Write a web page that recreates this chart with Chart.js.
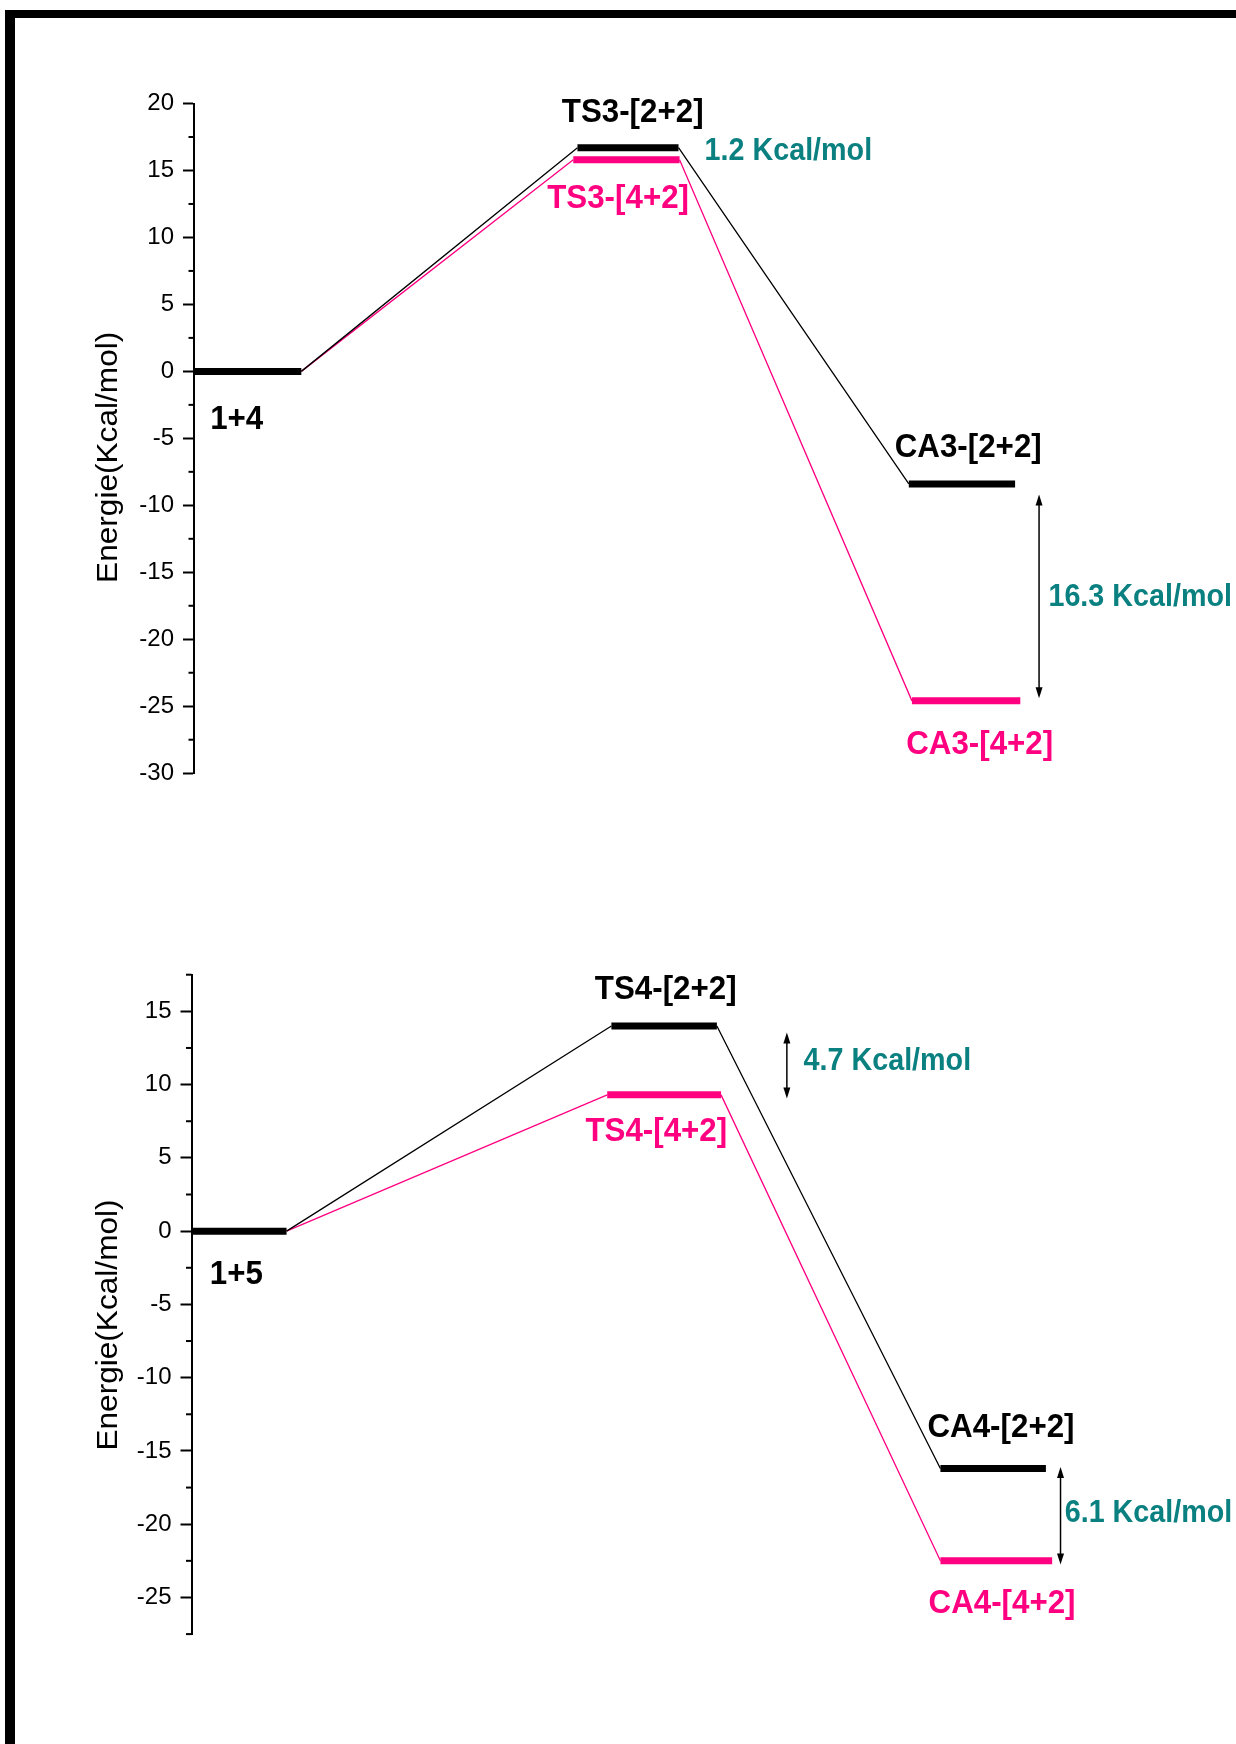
<!DOCTYPE html>
<html>
<head>
<meta charset="utf-8">
<script src="https://cdn.jsdelivr.net/npm/chart.js@4.4.1/dist/chart.umd.min.js"></script>
<style>
  body { margin: 0; background: #fff; width: 1236px; height: 1744px; position: relative; overflow: hidden; }
  #frameTop { position: absolute; left: 5px; top: 10px; width: 1231px; height: 8px; background: #000; }
  #frameLeft { position: absolute; left: 5px; top: 10px; width: 10px; height: 1734px; background: #000; }
  canvas { position: absolute; left: 0; }
  #upper { top: 0; }
  #lower { top: 870px; }
</style>
</head>
<body>
<div id="frameTop"></div>
<div id="frameLeft"></div>
<canvas id="upper" width="1236" height="870"></canvas>
<canvas id="lower" width="1236" height="874"></canvas>
<script>
/* ---------------------------------------------------------------------------
    DATA  (energies in Kcal/mol, x = reaction coordinate)
--------------------------------------------------------------------------- */

// upper diagram: 1+4
const upperNames22 = ['1+4', 'TS3-[2+2]', 'CA3-[2+2]'];
const upperNames42 = ['1+4', 'TS3-[4+2]', 'CA3-[4+2]'];
const upperEnergy22 = [0, 16.7, -8.4];
const upperEnergy42 = [0, 15.8, -24.6];
const upperStart22 = [0, 3.68, 6.86];
const upperEnd22 = [1.03, 4.65, 7.88];
const upperStart42 = [0, 3.64, 6.89];
const upperEnd42 = [1.03, 4.66, 7.93];
const upperTicks = { min: -30, max: 20, step: 5, minor: 2.5 };
// label anchors [x, energy]
const upperLabelX22 = [0.41, 4.21, 7.43];
const upperLabelY22 = [-3.6, 19.3, -5.7];
const upperLabelX42 = [null, 4.07, 7.54];
const upperLabelY42 = [null, 12.9, -27.9];
const upperGapText = ['1.2 Kcal/mol', '16.3 Kcal/mol'];
const upperGapTextX = [4.90, 8.20];
const upperGapTextY = [16.4, -16.9];
const upperArrowX = [8.11];
const upperArrowFrom = [-9.2];
const upperArrowTo = [-24.4];

// lower diagram: 1+5
const lowerNames22 = ['1+5', 'TS4-[2+2]', 'CA4-[2+2]'];
const lowerNames42 = ['1+5', 'TS4-[4+2]', 'CA4-[4+2]'];
const lowerEnergy22 = [0, 14.0, -16.2];
const lowerEnergy42 = [0, 9.3, -22.5];
const lowerStart22 = [0, 4.02, 7.17];
const lowerEnd22 = [0.91, 5.03, 8.18];
const lowerStart42 = [0, 3.98, 7.17];
const lowerEnd42 = [0.91, 5.07, 8.24];
const lowerTicks = { min: -27.5, max: 17.5, step: 5, minor: 2.5 };
const lowerLabelX22 = [0.43, 4.54, 7.75];
const lowerLabelY22 = [-3.0, 16.5, -13.4];
const lowerLabelX42 = [null, 4.45, 7.76];
const lowerLabelY42 = [null, 6.8, -25.4];
const lowerGapText = ['4.7 Kcal/mol', '6.1 Kcal/mol'];
const lowerGapTextX = [5.86, 8.36];
const lowerGapTextY = [11.6, -19.3];
const lowerArrowX = [5.70, 8.32];
const lowerArrowFrom = [13.55, -16.1];
const lowerArrowTo = [9.05, -22.75];

/* ---------------------------------------------------------------------------
    STYLE
--------------------------------------------------------------------------- */
const FONT = '"Liberation Sans", Arial, Helvetica, sans-serif';
const BLACK = '#000000';
const PINK = '#ff0080';
const TEAL = '#0b8080';

// horizontal level bars, separated by null gaps
const levelPoints = (starts, ends, energies, from) => {
  const pts = [];
  for (let i = from; i < energies.length; i++) {
    pts.push({ x: starts[i], y: energies[i] }, { x: ends[i], y: energies[i] }, { x: ends[i], y: null });
  }
  return pts;
};

// thin lines joining the end of one level to the start of the next
const linkPoints = (starts, ends, energies) => {
  const pts = [];
  for (let i = 0; i < energies.length - 1; i++) {
    pts.push({ x: ends[i], y: energies[i] }, { x: starts[i + 1], y: energies[i + 1] }, { x: starts[i + 1], y: null });
  }
  return pts;
};

const lineDataset = (data, color, width) => ({
  data, borderColor: color, borderWidth: width, pointRadius: 0, pointHoverRadius: 0,
  tension: 0, fill: false, spanGaps: false, borderCapStyle: 'butt'
});

// the original figure is slightly stretched vertically, so text gets a scale
const drawScaledText = (ctx, text, x, y, sx, sy) => {
  ctx.save();
  ctx.translate(x, y);
  ctx.scale(sx, sy);
  ctx.fillText(text, 0, 0);
  ctx.restore();
};

// draws minor ticks, the rotated axis title, level names, gap labels and arrows
const diagramExtras = {
  id: 'diagramExtras',
  afterDraw(chart, args, opts) {
    const { ctx, chartArea } = chart;
    const xs = chart.scales.x;
    const ys = chart.scales.y;
    ctx.save();

    // minor ticks
    ctx.strokeStyle = BLACK;
    ctx.lineWidth = 2;
    for (let v = opts.ticks.min; v <= opts.ticks.max + 1e-9; v += opts.ticks.minor) {
      if (Math.abs(v % opts.ticks.step) < 1e-9) continue;
      const py = ys.getPixelForValue(v);
      ctx.beginPath();
      ctx.moveTo(chartArea.left - 5.5, py);
      ctx.lineTo(chartArea.left, py);
      ctx.stroke();
    }

    // axis title
    ctx.save();
    ctx.translate(opts.titleX, (chartArea.top + chartArea.bottom) / 2 + opts.titleShift);
    ctx.rotate(-Math.PI / 2);
    ctx.font = `29px ${FONT}`;
    ctx.fillStyle = BLACK;
    ctx.textAlign = 'center';
    ctx.textBaseline = 'middle';
    drawScaledText(ctx, 'Energie(Kcal/mol)', 0, 0, 1.09, 1);
    ctx.restore();

    // level names
    ctx.textBaseline = 'middle';
    ctx.font = `bold 31px ${FONT}`;
    ctx.textAlign = 'center';
    opts.names.forEach((set) => {
      ctx.fillStyle = set.color;
      set.text.forEach((t, i) => {
        if (set.x[i] === null) return;
        drawScaledText(ctx, t, xs.getPixelForValue(set.x[i]), ys.getPixelForValue(set.y[i]), 1.01, 1.08);
      });
    });

    // energy gap labels
    ctx.font = `bold 29px ${FONT}`;
    ctx.textAlign = 'left';
    ctx.fillStyle = TEAL;
    opts.gaps.text.forEach((t, i) => {
      drawScaledText(ctx, t, xs.getPixelForValue(opts.gaps.x[i]), ys.getPixelForValue(opts.gaps.y[i]), 0.99, 1.05);
    });

    // double arrows
    ctx.strokeStyle = BLACK;
    ctx.fillStyle = BLACK;
    ctx.lineWidth = 1.5;
    const head = 11, half = 3.5;
    opts.arrows.x.forEach((ax, i) => {
      const px = xs.getPixelForValue(ax);
      const y1 = ys.getPixelForValue(opts.arrows.from[i]);
      const y2 = ys.getPixelForValue(opts.arrows.to[i]);
      ctx.beginPath();
      ctx.moveTo(px, y1 + head - 1);
      ctx.lineTo(px, y2 - head + 1);
      ctx.stroke();
      ctx.beginPath();
      ctx.moveTo(px, y1); ctx.lineTo(px - half, y1 + head); ctx.lineTo(px + half, y1 + head); ctx.closePath();
      ctx.fill();
      ctx.beginPath();
      ctx.moveTo(px, y2); ctx.lineTo(px - half, y2 - head); ctx.lineTo(px + half, y2 - head); ctx.closePath();
      ctx.fill();
    });

    ctx.restore();
  }
};

/* ---------------------------------------------------------------------------
    ENERGY DIAGRAM
--------------------------------------------------------------------------- */
const createEnergyDiagram = (canvasId, d, layout) => {
  const ctx = document.getElementById(canvasId).getContext('2d');
  return new Chart(ctx, {
    type: 'line',
    data: {
      datasets: [
        lineDataset(levelPoints(d.start22, d.end22, d.e22, 0), BLACK, 7),
        lineDataset(levelPoints(d.start42, d.end42, d.e42, 1), PINK, 7),
        lineDataset(linkPoints(d.start22, d.end22, d.e22), BLACK, 1.3),
        lineDataset(linkPoints(d.start42, d.end42, d.e42), PINK, 1.3)
      ]
    },
    options: {
      responsive: false,
      animation: false,
      events: [],
      layout: { padding: { top: layout.top, bottom: layout.bottom, left: 0, right: 0 } },
      scales: {
        x: { type: 'linear', min: 0, max: 10, display: false },
        y: {
          type: 'linear',
          min: d.ticks.min,
          max: d.ticks.max,
          border: { display: true, color: BLACK, width: 2 },
          grid: { drawOnChartArea: false, drawTicks: true, tickLength: 11, tickWidth: 2, tickColor: BLACK },
          ticks: {
            padding: 9,
            color: BLACK,
            font: { family: FONT, size: 24 }
          },
          // major ticks only on multiples of 5
          afterBuildTicks: (scale) => {
            const t = [];
            const first = Math.ceil(d.ticks.min / d.ticks.step) * d.ticks.step;
            for (let v = first; v <= d.ticks.max + 1e-9; v += d.ticks.step) t.push({ value: v });
            scale.ticks = t;
          },
          afterFit: (scale) => { scale.width = layout.axisX; }
        }
      },
      plugins: {
        legend: { display: false },
        tooltip: { enabled: false },
        diagramExtras: {
          ticks: d.ticks,
          titleX: layout.titleX,
          titleShift: layout.titleShift,
          names: d.names,
          gaps: d.gaps,
          arrows: d.arrows
        }
      }
    },
    plugins: [diagramExtras]
  });
};

createEnergyDiagram('upper', {
  e22: upperEnergy22, e42: upperEnergy42,
  start22: upperStart22, end22: upperEnd22, start42: upperStart42, end42: upperEnd42,
  ticks: upperTicks,
  names: [
    { text: upperNames22, x: upperLabelX22, y: upperLabelY22, color: BLACK },
    { text: upperNames42, x: upperLabelX42, y: upperLabelY42, color: PINK }
  ],
  gaps: { text: upperGapText, x: upperGapTextX, y: upperGapTextY },
  arrows: { x: upperArrowX, from: upperArrowFrom, to: upperArrowTo }
}, { top: 103.5, bottom: 96.8, axisX: 194, titleX: 108.5, titleShift: 19 });

createEnergyDiagram('lower', {
  e22: lowerEnergy22, e42: lowerEnergy42,
  start22: lowerStart22, end22: lowerEnd22, start42: lowerStart42, end42: lowerEnd42,
  ticks: lowerTicks,
  names: [
    { text: lowerNames22, x: lowerLabelX22, y: lowerLabelY22, color: BLACK },
    { text: lowerNames42, x: lowerLabelX42, y: lowerLabelY42, color: PINK }
  ],
  gaps: { text: lowerGapText, x: lowerGapTextX, y: lowerGapTextY },
  arrows: { x: lowerArrowX, from: lowerArrowFrom, to: lowerArrowTo }
}, { top: 104.7, bottom: 109.9, axisX: 191.5, titleX: 109, titleShift: 20.6 });
</script>
</body>
</html>
